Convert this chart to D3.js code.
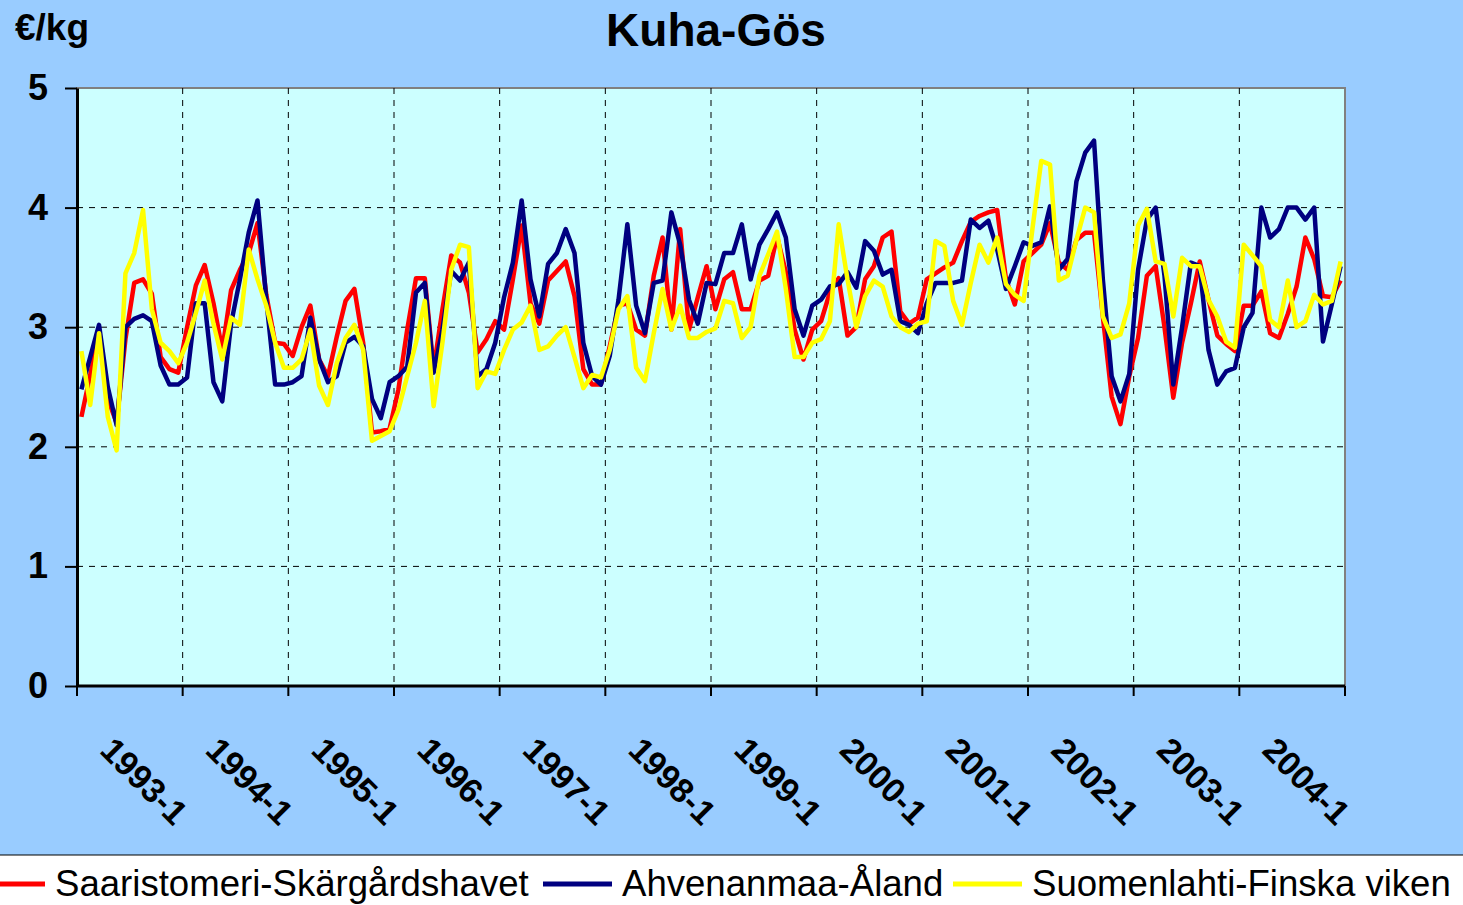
<!DOCTYPE html>
<html>
<head>
<meta charset="utf-8">
<script src="https://cdn.jsdelivr.net/npm/d3@7"></script>
<style>
  body { margin: 0; background: #99ccff; }
  svg { display: block; font-family: Arial, "Liberation Sans", sans-serif; }
</style>
</head>
<body>
<div id="chart"></div>
<script>
// years shown on the category axis (monthly data, Jan 1993 - Dec 2004)
var years = [1993, 1994, 1995, 1996, 1997, 1998, 1999, 2000, 2001, 2002, 2003, 2004];
var yTicks = [0, 1, 2, 3, 4, 5];

var seriesNames = ["Saaristomeri-Skärgårdshavet", "Ahvenanmaa-Åland", "Suomenlahti-Finska viken"];
var seriesColors = ["#ff0000", "#000080", "#ffff00"];

// €/kg, one value per month
var saaristomeri = [
  2.25, 2.6, 2.95, 2.4, 2.2, 2.9, 3.37, 3.4, 3.28, 2.75, 2.65, 2.62,
  3.0, 3.35, 3.52, 3.2, 2.81, 3.31, 3.48, 3.62, 3.87, 3.27, 2.87, 2.86,
  2.76, 3.0, 3.18, 2.73, 2.59, 2.92, 3.22, 3.32, 2.87, 2.12, 2.13, 2.15,
  2.48, 2.98, 3.41, 3.41, 2.65, 3.15, 3.6, 3.54, 3.29, 2.79, 2.9, 3.05,
  2.98, 3.4, 3.85, 3.2, 3.03, 3.39, 3.47, 3.55, 3.26, 2.65, 2.52, 2.52,
  2.84, 3.18, 3.2, 2.98, 2.93, 3.43, 3.75, 2.98, 3.82, 2.98, 3.25, 3.51,
  3.15, 3.4, 3.46, 3.15, 3.15, 3.39, 3.43, 3.76, 3.46, 2.98, 2.73, 2.98,
  3.05, 3.29, 3.41, 2.93, 3.0, 3.4, 3.51, 3.75, 3.8, 3.13, 3.03, 3.08,
  3.4, 3.45, 3.5, 3.54, 3.72, 3.88, 3.93, 3.96, 3.98, 3.4, 3.19, 3.55,
  3.62, 3.69, 3.87, 3.54, 3.48, 3.73, 3.79, 3.79, 3.09, 2.42, 2.19, 2.59,
  2.91, 3.43, 3.51, 3.0, 2.41, 2.87, 3.2, 3.55, 3.23, 2.93, 2.86, 2.8,
  3.18, 3.18, 3.3, 2.95, 2.91, 3.11, 3.34, 3.75, 3.57, 3.26, 3.25, 3.39
];
var ahvenanmaa = [
  2.48, 2.75, 3.02, 2.5, 2.18, 3.0, 3.07, 3.1, 3.05, 2.68, 2.52, 2.52,
  2.58, 3.2, 3.2, 2.54, 2.38, 3.03, 3.4, 3.79, 4.06, 3.23, 2.52, 2.52,
  2.54, 2.59, 3.08, 2.73, 2.54, 2.59, 2.87, 2.92, 2.84, 2.4, 2.24, 2.54,
  2.59, 2.67, 3.29, 3.37, 2.62, 2.98, 3.47, 3.39, 3.54, 2.59, 2.65, 2.87,
  3.25, 3.54, 4.06, 3.4, 3.09, 3.53, 3.62, 3.82, 3.62, 2.87, 2.59, 2.52,
  2.76, 3.23, 3.86, 3.18, 2.95, 3.37, 3.39, 3.96, 3.69, 3.23, 3.03, 3.37,
  3.36, 3.62, 3.62, 3.86, 3.4, 3.69, 3.82, 3.96, 3.75, 3.15, 2.93, 3.18,
  3.23, 3.34, 3.36, 3.46, 3.33, 3.72, 3.64, 3.44, 3.48, 3.05, 3.02, 2.95,
  3.2, 3.37, 3.37, 3.37, 3.39, 3.9, 3.83, 3.89, 3.65, 3.32, 3.51, 3.71,
  3.68, 3.71, 4.01, 3.48, 3.57, 4.22, 4.46, 4.56, 3.4, 2.59, 2.38, 2.61,
  3.48, 3.9, 4.0, 3.43, 2.52, 3.0, 3.54, 3.51, 2.81, 2.52, 2.63, 2.66,
  3.0, 3.12, 4.0, 3.75, 3.82, 4.0, 4.0, 3.9, 4.0, 2.88, 3.19, 3.51
];
var suomenlahti = [
  2.8, 2.35, 2.95, 2.25, 1.97, 3.45, 3.62, 3.98, 3.15, 2.87, 2.8, 2.7,
  2.87, 3.12, 3.39, 3.03, 2.73, 3.08, 3.02, 3.65, 3.4, 3.18, 2.87, 2.66,
  2.66, 2.73, 2.98, 2.51, 2.35, 2.7, 2.91, 3.02, 2.81, 2.05, 2.09, 2.13,
  2.31, 2.59, 2.87, 3.22, 2.34, 2.87, 3.48, 3.69, 3.67, 2.49, 2.63, 2.61,
  2.81, 2.98, 3.04, 3.18, 2.81, 2.84, 2.93, 3.0, 2.75, 2.49, 2.6, 2.58,
  2.81, 3.15, 3.26, 2.66, 2.55, 2.95, 3.32, 2.98, 3.18, 2.91, 2.91, 2.96,
  2.99, 3.22, 3.2, 2.91, 3.0, 3.43, 3.61, 3.8, 3.32, 2.75, 2.75, 2.87,
  2.9, 3.05, 3.86, 3.4, 3.0, 3.26, 3.39, 3.34, 3.09, 3.0, 2.96, 3.03,
  3.05, 3.72, 3.68, 3.22, 3.02, 3.37, 3.69, 3.54, 3.75, 3.36, 3.27, 3.22,
  3.82, 4.39, 4.36, 3.39, 3.43, 3.73, 4.0, 3.96, 3.09, 2.91, 2.94, 3.2,
  3.85, 3.99, 3.55, 3.53, 3.09, 3.58, 3.51, 3.51, 3.23, 3.09, 2.88, 2.83,
  3.69, 3.6, 3.51, 3.06, 3.0, 3.39, 3.0, 3.05, 3.27, 3.19, 3.22, 3.55
];

var width = 1463,
    height = 905,
    plot = {left: 77, right: 1345, top: 88, bottom: 686};

// category labels "1993-1" ... "2004-12"
var categories = [];
years.forEach(function(yr){
    for (var m = 1; m <= 12; m++) categories.push(yr + "-" + m);
});

var x = d3.scaleBand().domain(categories).range([plot.left, plot.right]).padding(0),
    y = d3.scaleLinear().domain([0, 5]).range([plot.bottom, plot.top]);

var svg = d3.select("#chart").append("svg")
    .attr("width", width)
    .attr("height", height);

svg.append("rect")
    .attr("width", width).attr("height", height)
    .attr("fill", "#99ccff");

// plot area
svg.append("rect")
    .attr("x", plot.left).attr("y", plot.top)
    .attr("width", plot.right - plot.left)
    .attr("height", plot.bottom - plot.top)
    .attr("fill", "#ccffff")
    .attr("stroke", "#808080")
    .attr("stroke-width", 2);

// horizontal gridlines
svg.append("g").selectAll("line")
    .data(yTicks.filter(function(d){ return d > 0 && d < 5; }))
    .enter().append("line")
    .attr("x1", plot.left).attr("x2", plot.right)
    .attr("y1", function(d){ return y(d); })
    .attr("y2", function(d){ return y(d); })
    .attr("stroke", "#000")
    .attr("stroke-width", 1)
    .attr("stroke-dasharray", "6,6");

// vertical gridlines between years
var yearStarts = years.map(function(yr){ return yr + "-1"; });
svg.append("g").selectAll("line")
    .data(yearStarts.slice(1))
    .enter().append("line")
    .attr("x1", function(d){ return x(d); })
    .attr("x2", function(d){ return x(d); })
    .attr("y1", plot.top).attr("y2", plot.bottom)
    .attr("stroke", "#000")
    .attr("stroke-width", 1)
    .attr("stroke-dasharray", "6,6");

// lines
var line = d3.line()
    .x(function(d, i){ return x(categories[i]) + x.bandwidth() / 2; })
    .y(function(d){ return y(d); });

[saaristomeri, ahvenanmaa, suomenlahti].forEach(function(s, i){
    svg.append("path")
        .datum(s)
        .attr("fill", "none")
        .attr("stroke", seriesColors[i])
        .attr("stroke-width", 4.5)
        .attr("stroke-linejoin", "round")
        .attr("d", line);
});

// y axis
var yAxis = d3.axisLeft(y)
    .tickValues(yTicks)
    .tickFormat(d3.format("d"))
    .tickSize(12)
    .tickSizeOuter(0)
    .tickPadding(17);

var gy = svg.append("g")
    .attr("transform", "translate(" + plot.left + ",0)")
    .call(yAxis);
gy.select(".domain").attr("stroke", "#000").attr("stroke-width", 3);
gy.selectAll(".tick line").attr("stroke", "#000").attr("stroke-width", 2);
gy.selectAll("text")
    .attr("fill", "#000")
    .style("font-family", "Arial, 'Liberation Sans', sans-serif")
    .style("font-size", "36px")
    .style("font-weight", "bold");

// x axis (ticks between years)
var gx = svg.append("g");
gx.append("line")
    .attr("x1", plot.left).attr("x2", plot.right)
    .attr("y1", plot.bottom).attr("y2", plot.bottom)
    .attr("stroke", "#000").attr("stroke-width", 3);
gx.selectAll(".tickmark")
    .data(yearStarts.map(function(d){ return x(d); }).concat([plot.right]))
    .enter().append("line")
    .attr("class", "tickmark")
    .attr("x1", function(d){ return d; })
    .attr("x2", function(d){ return d; })
    .attr("y1", plot.bottom).attr("y2", plot.bottom + 10)
    .attr("stroke", "#000").attr("stroke-width", 2);
gx.selectAll(".lbl")
    .data(yearStarts)
    .enter().append("text")
    .attr("class", "lbl")
    .attr("transform", function(d){
        return "translate(" + (x(d) + x.bandwidth() / 2 + 17) + ",752) rotate(45)";
    })
    .attr("text-anchor", "start")
    .style("font-size", "34px")
    .style("font-weight", "bold")
    .text(function(d){ return d; });

// title and unit
svg.append("text")
    .attr("x", 716).attr("y", 46)
    .attr("text-anchor", "middle")
    .style("font-size", "46px")
    .style("font-weight", "bold")
    .text("Kuha-Gös");

svg.append("text")
    .attr("x", 15).attr("y", 40)
    .style("font-size", "37px")
    .style("font-weight", "bold")
    .text("€/kg");

// legend
var legend = svg.append("g");
legend.append("rect")
    .attr("x", -2).attr("y", 855)
    .attr("width", width + 4).attr("height", 60)
    .attr("fill", "#fff")
    .attr("stroke", "#000")
    .attr("stroke-width", 1);

var legendPos = [{sx: -25, tx: 55}, {sx: 543, tx: 622}, {sx: 953, tx: 1032}];
seriesNames.forEach(function(name, i){
    legend.append("line")
        .attr("x1", legendPos[i].sx).attr("x2", legendPos[i].tx - 10)
        .attr("y1", 884).attr("y2", 884)
        .attr("stroke", seriesColors[i])
        .attr("stroke-width", 5);
    legend.append("text")
        .attr("x", legendPos[i].tx).attr("y", 896)
        .style("font-size", "36.6px")
        .text(name);
});
</script>
</body>
</html>
